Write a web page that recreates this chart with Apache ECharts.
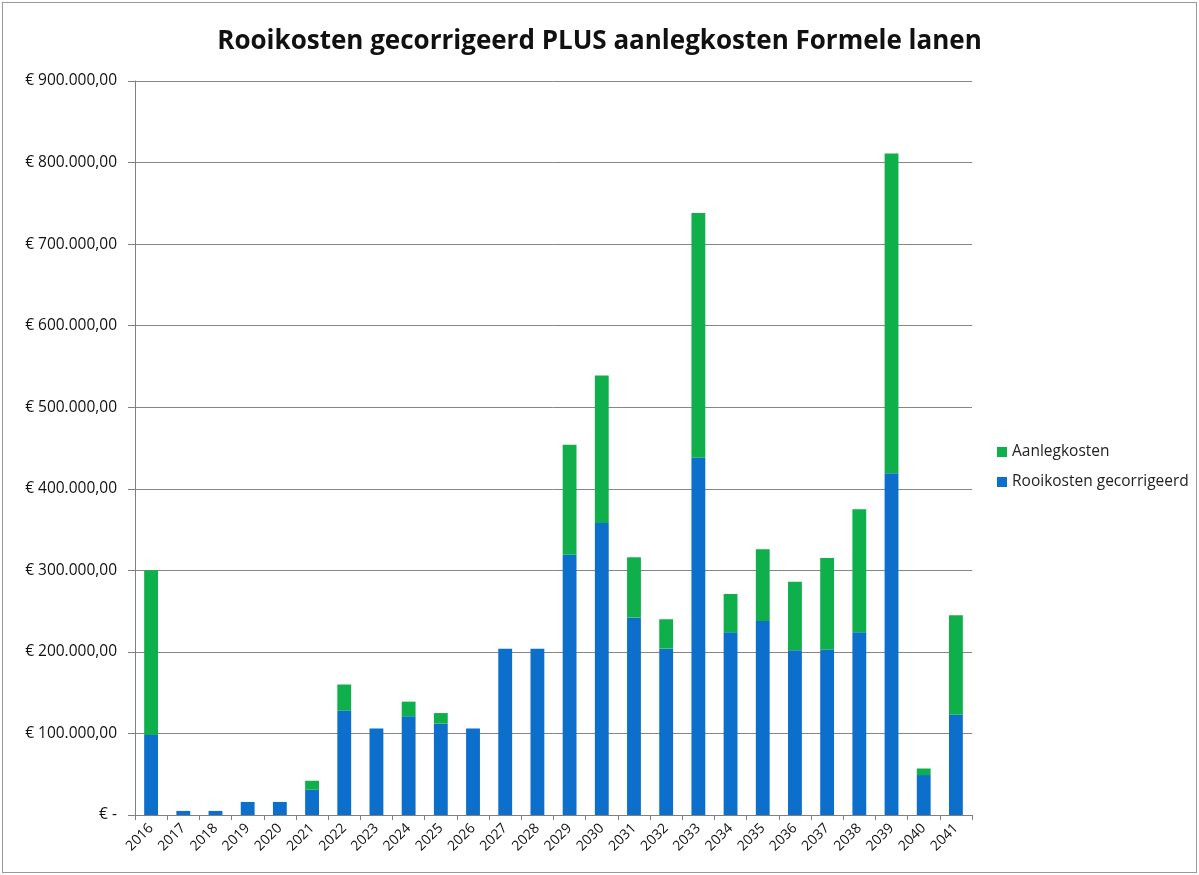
<!DOCTYPE html>
<html>
<head>
<meta charset="utf-8">
<title>Rooikosten gecorrigeerd PLUS aanlegkosten Formele lanen</title>
<script src="https://cdn.jsdelivr.net/npm/echarts@6/dist/echarts.min.js"></script>
<style>
  html, body { margin: 0; padding: 0; background: #fff; }
  #frame { position: absolute; left: 2px; top: 2px; width: 1195px; height: 871px; border: 1px solid #9a9a9a; box-sizing: border-box; }
  #chart { position: absolute; left: 0; top: 0; width: 1199px; height: 875px; }
</style>
</head>
<body>
<div id="frame"></div>
<div id="chart"></div>
<script>
// --- Data ---
const years = ['2016','2017','2018','2019','2020','2021','2022','2023','2024','2025','2026','2027','2028',
               '2029','2030','2031','2032','2033','2034','2035','2036','2037','2038','2039','2040','2041'];

// Rooikosten gecorrigeerd (blue, bottom of stack)
const rooikosten = [98000, 5000, 5000, 16000, 16000, 31000, 128000, 106000, 121000, 112000, 106000, 204000, 204000,
                    319000, 358000, 242000, 204000, 438000, 224000, 238000, 202000, 203000, 224000, 419000, 49000, 123000];

// Aanlegkosten (green, stacked on top)
const aanlegkosten = [202000, 0, 0, 0, 0, 11000, 32000, 0, 18000, 13000, 0, 0, 0,
                      135000, 181000, 74000, 36000, 300000, 47000, 88000, 84000, 112000, 151000, 392000, 8000, 122000];

const yTicks = { min: 0, max: 900000, interval: 100000 };

const FONT = '"Open Sans", Lato, sans-serif';

function euro(v) {
    if (v === 0) return '€ -';
    const s = String(Math.round(v)).replace(/\B(?=(\d{3})+(?!\d))/g, '.');
    return '€ ' + s + ',00';
}

const chart = echarts.init(document.getElementById('chart'), null, { renderer: 'canvas' });

chart.setOption({
    animation: false,
    title: {
        text: 'Rooikosten gecorrigeerd PLUS aanlegkosten Formele lanen',
        left: 'center',
        top: 24,
        textStyle: { fontFamily: FONT, fontSize: 26, fontWeight: 'bold', color: '#111' }
    },
    legend: {
        orient: 'vertical',
        left: 992,
        top: 439,
        itemWidth: 10,
        itemHeight: 10,
        itemGap: 14,
        icon: 'rect',
        data: ['Aanlegkosten', 'Rooikosten gecorrigeerd'],
        textStyle: { fontFamily: FONT, fontSize: 15.5, color: '#222' }
    },
    grid: { left: 135, right: 227, top: 81, bottom: 60, containLabel: false },
    xAxis: {
        type: 'category',
        data: years,
        boundaryGap: true,
        axisLine: { lineStyle: { color: '#7f7f7f', width: 1 } },
        axisTick: { show: true, alignWithLabel: false, length: 5, lineStyle: { color: '#7f7f7f' } },
        axisLabel: { rotate: 45, interval: 0, margin: 11, fontFamily: FONT, fontSize: 14, color: '#111' }
    },
    yAxis: {
        type: 'value',
        min: yTicks.min,
        max: yTicks.max,
        interval: yTicks.interval,
        axisLine: { show: true, lineStyle: { color: '#7f7f7f', width: 1 } },
        axisTick: { show: true, length: 7, lineStyle: { color: '#7f7f7f' } },
        splitLine: { lineStyle: { color: '#868686', width: 1 } },
        axisLabel: { formatter: euro, margin: 18, fontFamily: FONT, fontSize: 15.5, color: '#111' }
    },
    series: [
        {
            name: 'Rooikosten gecorrigeerd',
            type: 'bar',
            stack: 'kosten',
            data: rooikosten,
            barWidth: '43%',
            itemStyle: { color: '#0b6fcb' }
        },
        {
            name: 'Aanlegkosten',
            type: 'bar',
            stack: 'kosten',
            data: aanlegkosten,
            barWidth: '43%',
            itemStyle: { color: '#0fb04b' }
        }
    ]
});
</script>
</body>
</html>
